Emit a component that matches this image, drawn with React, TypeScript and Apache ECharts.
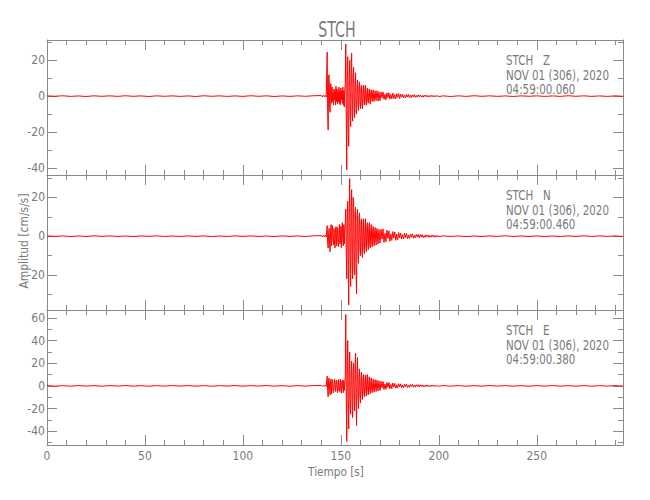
import React, { useEffect, useRef } from "react";
import * as echarts from "echarts";

// ---------- data ----------
const stationName = "STCH";
const channels = ["Z", "N", "E"];
const dateLabel = "NOV 01 (306), 2020";
const startTimes = ["04:59:00.060", "04:59:00.460", "04:59:00.380"];

const xTickLabels = [0, 50, 100, 150, 200, 250];
const xMinorTicks = [0, 10, 20, 30, 40, 50, 60, 70, 80, 90, 100, 110, 120, 130, 140, 150, 160, 170, 180, 190, 200, 210, 220, 230, 240, 250, 260, 270, 280, 290];

const yRanges = [
  [-44, 31.3],
  [-38.1, 31.6],
  [-52.2, 67],
];
const yMajorTicks = [
  [-40, -20, 0, 20],
  [-20, 0, 20],
  [-40, -20, 0, 20, 40, 60],
];
const yMinorTicks = [
  [-40, -30, -20, -10, 0, 10, 20, 30],
  [-30, -20, -10, 0, 10, 20, 30],
  [-50, -40, -30, -20, -10, 0, 10, 20, 30, 40, 50, 60],
];

// pre-event noise, t = 0..136 s, every 4 s
const preZ = [0.15, -0.1, 0.2, -0.15, 0.1, -0.2, 0.15, -0.1, 0.15, -0.15, 0.2, -0.1, 0.1, -0.2, 0.15, -0.1, 0.15, -0.15, 0.1, -0.2, 0.2, -0.1, 0.15, -0.15, 0.1, -0.15, 0.2, -0.1, 0.15, -0.2, 0.1, -0.15, 0.15, -0.1, 0.2];
const preN = [0.15, -0.1, 0.15, -0.2, 0.1, -0.15, 0.2, -0.1, 0.15, -0.15, 0.1, -0.2, 0.15, -0.1, 0.2, -0.15, 0.1, -0.15, 0.15, -0.1, 0.15, -0.2, 0.1, -0.15, 0.2, -0.1, 0.15, -0.15, 0.1, -0.2, 0.15, -0.1, 0.15, -0.15, 0.2];
const preE = [0.25, -0.3, 0.2, -0.25, 0.3, -0.2, 0.25, -0.3, 0.25, -0.2, 0.3, -0.25, 0.2, -0.3, 0.25, -0.25, 0.3, -0.2, 0.25, -0.25, 0.2, -0.3, 0.25, -0.2, 0.3, -0.25, 0.25, -0.2, 0.3, -0.25, 0.2, -0.3, 0.25, -0.25, 0.3];

// onset lead-in, t = 140..142.5 s, every 0.5 s
const leadZ = [0.3, -0.4, 0.5, -0.3, 0.4, -0.5];
const leadN = [0.3, -0.4, 0.4, -0.3, 0.5, -0.4];
const leadE = [0.4, -0.5, 0.5, -0.4, 0.6, -0.5];

// strong motion, t = 143..170 s, every 0.25 s
const strongZ = [
  24.5, -8, -19, 10, 12, -6, -9, 7, 6,
  -4, 5, -3, 2, -5, 4, -2, 3, -5, 5.5, -3, 4, -4.5, 2, -3, 5, -4, 3, -5, 4.5, -2, 3, -4, 5, -5, 3, -6, 4, 7,
  29, -12, -41, 18, 22, -20, -28, 10, 20, -9,
  -17, 15, 24, -8, -14, 11, 16, -6, -12, 7,
  13, -9, -10, 5, 9, -4, -8, 6, 8, -3,
  -7, 4, 6, -5, -7, 3, 6, -2, -5, 4,
  6, -3, -5, 2, 4.5, -3, -4, 2, 4, -2,
  -4.5, 2.5, 3.5, -1.5, -3, 2, 3.5, -2, -3, 1.5,
  3, -1.5, -2.5, 2, 3, -1, -2.8, 1.5, 2.5, -1.5,
  -2.5,
];
const strongN = [
  5.5, -3, -6, 2, 4, -5, -8, 3, 6,
  -5, 3, 5.5, -2, -4.5, 4, -3, -6, 2, 5, -5, 3, 4.5, -4, -5.5, 2, 6, -4, -3, 5, -6, 4, 7, -3, -5, 6, -4, 3, 7,
  14, -8, -22, 10, 18, -15, -35.5, 12, 29.7, -10,
  -26, 15, 24, -12, -22, 20, 18, -16, -20, 12,
  15, -18, -29.8, 10, 14, -8, -14, 9, 12, -6,
  -10, 7, 9, -8, -11, 5, 9, -6, -9, 4,
  9, -5, -8, 5, 7, -3, -7, 4, 7, -4,
  -6, 3, 6, -3, -5.5, 4, 5, -2, -5, 3,
  4.5, -2, -4.5, 3, 4, -2, -4, 2, 3.5, -2,
  -3.5,
];
const strongE = [
  8.6, -4, -9.7, 5, 7, -3, -8, 4, 6,
  -7, 3, 5.5, -4, -6, 2, 6, -3, -5, 4, 5, -2, -6, 3, 5.5, -4, -5, 2, 6, -3, -6.5, 4, 5, -3, -6, 5, -4, 3, 8,
  63, -10, -49, 20, 40, -15, -38, 12, 30, -18,
  -25, 10, 22, -12, -28, 14, 20, -10, -22, 15,
  29, -14, -35, 12, 25, -10, -20, 8, 15, -9,
  -15, 6, 12, -7, -12, 5, 10, -6, -9.7, 4,
  9.5, -5, -9, 6, 10, -4, -8, 3, 8, -4,
  -7, 3, 7, -3, -6, 2, 6, -3, -5.5, 2,
  5.5, -2, -5, 3, 5, -2, -4.5, 2, 4.5, -2,
  -4,
];

// coda, t = 170.5..200 s, every 0.5 s
const codaZ = [
  2.2, -1, 2.4, -1.8, 1, -2.1, 1.8, -0.8, 1.9, -1.7, 0.9, -1.5, 1.7, -1.4, 0.8, -1.6, 1.3, -0.7, 1.4, -1.3,
  1.1, -0.6, 1, -0.9, 0.5, -1, 0.9, -0.5, 1, -0.9, 0.5, -0.9, 0.7, -0.4, 0.8, -0.7, 0.4, -0.6, 0.7, -0.3,
  0.6, -0.5, 0.3, -0.6, 0.5, -0.3, 0.6, -0.4, 0.3, -0.5, 0.4, -0.3, 0.5, -0.4, 0.3, -0.4, 0.4, -0.3, 0.3, -0.3,
];
const codaN = [
  3.5, -1.5, 3.8, -3.2, 1.5, -2.8, 3.2, -1.2, 2.8, -2.6, 1.2, -2.2, 2.4, -1, 2.2, -2.1, 1, -1.8, 1.9, -0.9,
  1.6, -1.5, 0.8, -1.4, 1.5, -0.7, 1.4, -1.2, 0.6, -1.2, 1.1, -0.5, 1.2, -1, 0.5, -0.9, 1, -0.4, 0.9, -0.8,
  0.8, -0.4, 0.8, -0.7, 0.3, -0.6, 0.7, -0.3, 0.6, -0.6, 0.3, -0.5, 0.6, -0.3, 0.5, -0.5, 0.3, -0.4, 0.4, -0.3,
];
const codaE = [
  4, -1.8, 3.8, -3.2, 1.6, -3, 3, -1.4, 3, -2.6, 1.3, -2.4, 2.5, -1.1, 2.2, -2, 1, -1.9, 1.9, -0.9,
  1.8, -1.6, 0.8, -1.5, 1.6, -0.7, 1.5, -1.4, 0.7, -1.3, 1.3, -0.6, 1.2, -1.1, 0.6, -1.1, 1.1, -0.5, 1, -1,
  1, -0.5, 0.9, -0.9, 0.4, -0.8, 0.8, -0.4, 0.8, -0.7, 0.4, -0.7, 0.7, -0.3, 0.7, -0.6, 0.3, -0.6, 0.5, -0.4,
];

// post-event noise, t = 202..294 s, every 4 s
const postZ = [0.15, -0.2, 0.15, -0.15, 0.2, -0.1, 0.15, -0.15, 0.1, -0.2, 0.15, -0.1, 0.15, -0.15, 0.1, -0.15, 0.2, -0.1, 0.15, -0.15, 0.1, -0.15, 0.15, -0.1];
const postN = [0.2, -0.15, 0.15, -0.2, 0.1, -0.15, 0.15, -0.1, 0.2, -0.15, 0.1, -0.15, 0.15, -0.2, 0.1, -0.15, 0.15, -0.1, 0.2, -0.15, 0.15, -0.1, 0.15, -0.15];
const postE = [0.3, -0.25, 0.25, -0.3, 0.2, -0.25, 0.3, -0.2, 0.25, -0.25, 0.2, -0.3, 0.25, -0.2, 0.3, -0.25, 0.2, -0.25, 0.25, -0.3, 0.2, -0.25, 0.25, -0.2];

// sampling of each data block: [start time, step]
const PRE_T = [0, 4];
const LEAD_T = [140, 0.5];
const STRONG_T = [143, 0.25];
const CODA_T = [170.5, 0.5];
const POST_T = [202, 4];
const X_MAX = 294;

function block(values: number[], t: number[]) {
  return values.map((v, i) => [t[0] + i * t[1], v]);
}
function buildTrace(pre: number[], lead: number[], strong: number[], coda: number[], post: number[]) {
  return [
    ...block(pre, PRE_T),
    ...block(lead, LEAD_T),
    ...block(strong, STRONG_T),
    ...block(coda, CODA_T),
    ...block(post, POST_T),
  ];
}

const traces = [
  buildTrace(preZ, leadZ, strongZ, codaZ, postZ),
  buildTrace(preN, leadN, strongN, codaN, postN),
  buildTrace(preE, leadE, strongE, codaE, postE),
];

// ---------- styling ----------
const FONT = "'DejaVu Sans Condensed', 'DejaVu Sans', sans-serif";
const AXIS_COLOR = "#8a8a8a";
const TEXT_COLOR = "#7a7a7a";
const GRID_LEFT = 47;
const GRID_WIDTH = 576;
const GRID_TOPS = [40, 175, 310];
const GRID_H = 135;

export default function App() {
  const ref = useRef<HTMLDivElement>(null);

  useEffect(() => {
    if (!ref.current) return;
    const chart = echarts.init(ref.current, null, { renderer: "svg" });

    const grids: any[] = [];
    const xAxes: any[] = [];
    const yAxes: any[] = [];
    const series: any[] = [];
    const graphics: any[] = [];

    const lineStyle = { color: AXIS_COLOR, width: 1 };
    const hiddenLine = { show: false, onZero: false };
    const shownLine = { show: true, onZero: false, lineStyle };

    for (let p = 0; p < 3; p++) {
      grids.push({ left: GRID_LEFT, width: GRID_WIDTH, top: GRID_TOPS[p], height: GRID_H, containLabel: false });
      const xBase = { type: "value", gridIndex: p, min: 0, max: X_MAX, splitLine: { show: false } };
      xAxes.push({
        ...xBase,
        position: "bottom",
        axisLine: shownLine,
        axisTick: { show: true, inside: true, length: 10, lineStyle, customValues: xTickLabels },
        axisLabel: {
          show: p === 2,
          customValues: xTickLabels,
          color: TEXT_COLOR,
          fontFamily: FONT,
          fontSize: 12,
          margin: 5,
        },
      });
      xAxes.push({
        ...xBase,
        position: "bottom",
        axisLine: hiddenLine,
        axisTick: { show: true, inside: true, length: 5, lineStyle, customValues: xMinorTicks },
        axisLabel: { show: false },
      });
      xAxes.push({
        ...xBase,
        position: "top",
        axisLine: shownLine,
        axisTick: { show: true, inside: true, length: 10, lineStyle, customValues: xTickLabels },
        axisLabel: { show: false },
      });
      xAxes.push({
        ...xBase,
        position: "top",
        axisLine: hiddenLine,
        axisTick: { show: true, inside: true, length: 5, lineStyle, customValues: xMinorTicks },
        axisLabel: { show: false },
      });

      const yBase = { type: "value", gridIndex: p, min: yRanges[p][0], max: yRanges[p][1], splitLine: { show: false } };
      yAxes.push({
        ...yBase,
        position: "left",
        axisLine: shownLine,
        axisTick: { show: true, inside: true, length: 10, lineStyle, customValues: yMajorTicks[p] },
        axisLabel: {
          show: true,
          customValues: yMajorTicks[p],
          color: TEXT_COLOR,
          fontFamily: FONT,
          fontSize: 12,
          margin: 2,
        },
      });
      yAxes.push({
        ...yBase,
        position: "left",
        axisLine: hiddenLine,
        axisTick: { show: true, inside: true, length: 5, lineStyle, customValues: yMinorTicks[p] },
        axisLabel: { show: false },
      });
      yAxes.push({
        ...yBase,
        position: "right",
        axisLine: shownLine,
        axisTick: { show: true, inside: true, length: 10, lineStyle, customValues: yMajorTicks[p] },
        axisLabel: { show: false },
      });
      yAxes.push({
        ...yBase,
        position: "right",
        axisLine: hiddenLine,
        axisTick: { show: true, inside: true, length: 5, lineStyle, customValues: yMinorTicks[p] },
        axisLabel: { show: false },
      });

      series.push({
        type: "line",
        xAxisIndex: p * 4,
        yAxisIndex: p * 4,
        data: traces[p],
        showSymbol: false,
        symbol: "none",
        lineStyle: { color: "#ff0000", width: 1 },
        clip: true,
        silent: true,
      });

      const lines = [`${stationName}   ${channels[p]}`, dateLabel, startTimes[p]];
      lines.forEach((txt, k) => {
        graphics.push({
          type: "text",
          x: 506,
          y: GRID_TOPS[p] + 20 + k * 14.6,
          scaleX: 0.82,
          style: { text: txt, fill: TEXT_COLOR, font: `14px ${FONT}`, align: "left", verticalAlign: "middle" },
        });
      });
    }

    graphics.push({
      type: "text",
      x: 337,
      y: 30,
      scaleX: 0.72,
      style: { text: stationName, fill: TEXT_COLOR, font: `22px ${FONT}`, align: "center", verticalAlign: "middle" },
    });
    graphics.push({
      type: "text",
      x: 336,
      y: 472,
      scaleX: 0.9,
      style: { text: "Tiempo [s]", fill: TEXT_COLOR, font: `13px ${FONT}`, align: "center", verticalAlign: "middle" },
    });
    graphics.push({
      type: "text",
      x: 23,
      y: 241,
      rotation: Math.PI / 2,
      scaleX: 0.92,
      style: { text: "Amplitud [cm/s/s]", fill: TEXT_COLOR, font: `13px ${FONT}`, align: "center", verticalAlign: "middle" },
    });

    chart.setOption({
      animation: false,
      backgroundColor: "#ffffff",
      grid: grids,
      xAxis: xAxes,
      yAxis: yAxes,
      series,
      graphic: graphics,
    });

    return () => chart.dispose();
  }, []);

  return <div ref={ref} style={{ width: 650, height: 500, position: "absolute", left: 0, top: 0 }} />;
}
